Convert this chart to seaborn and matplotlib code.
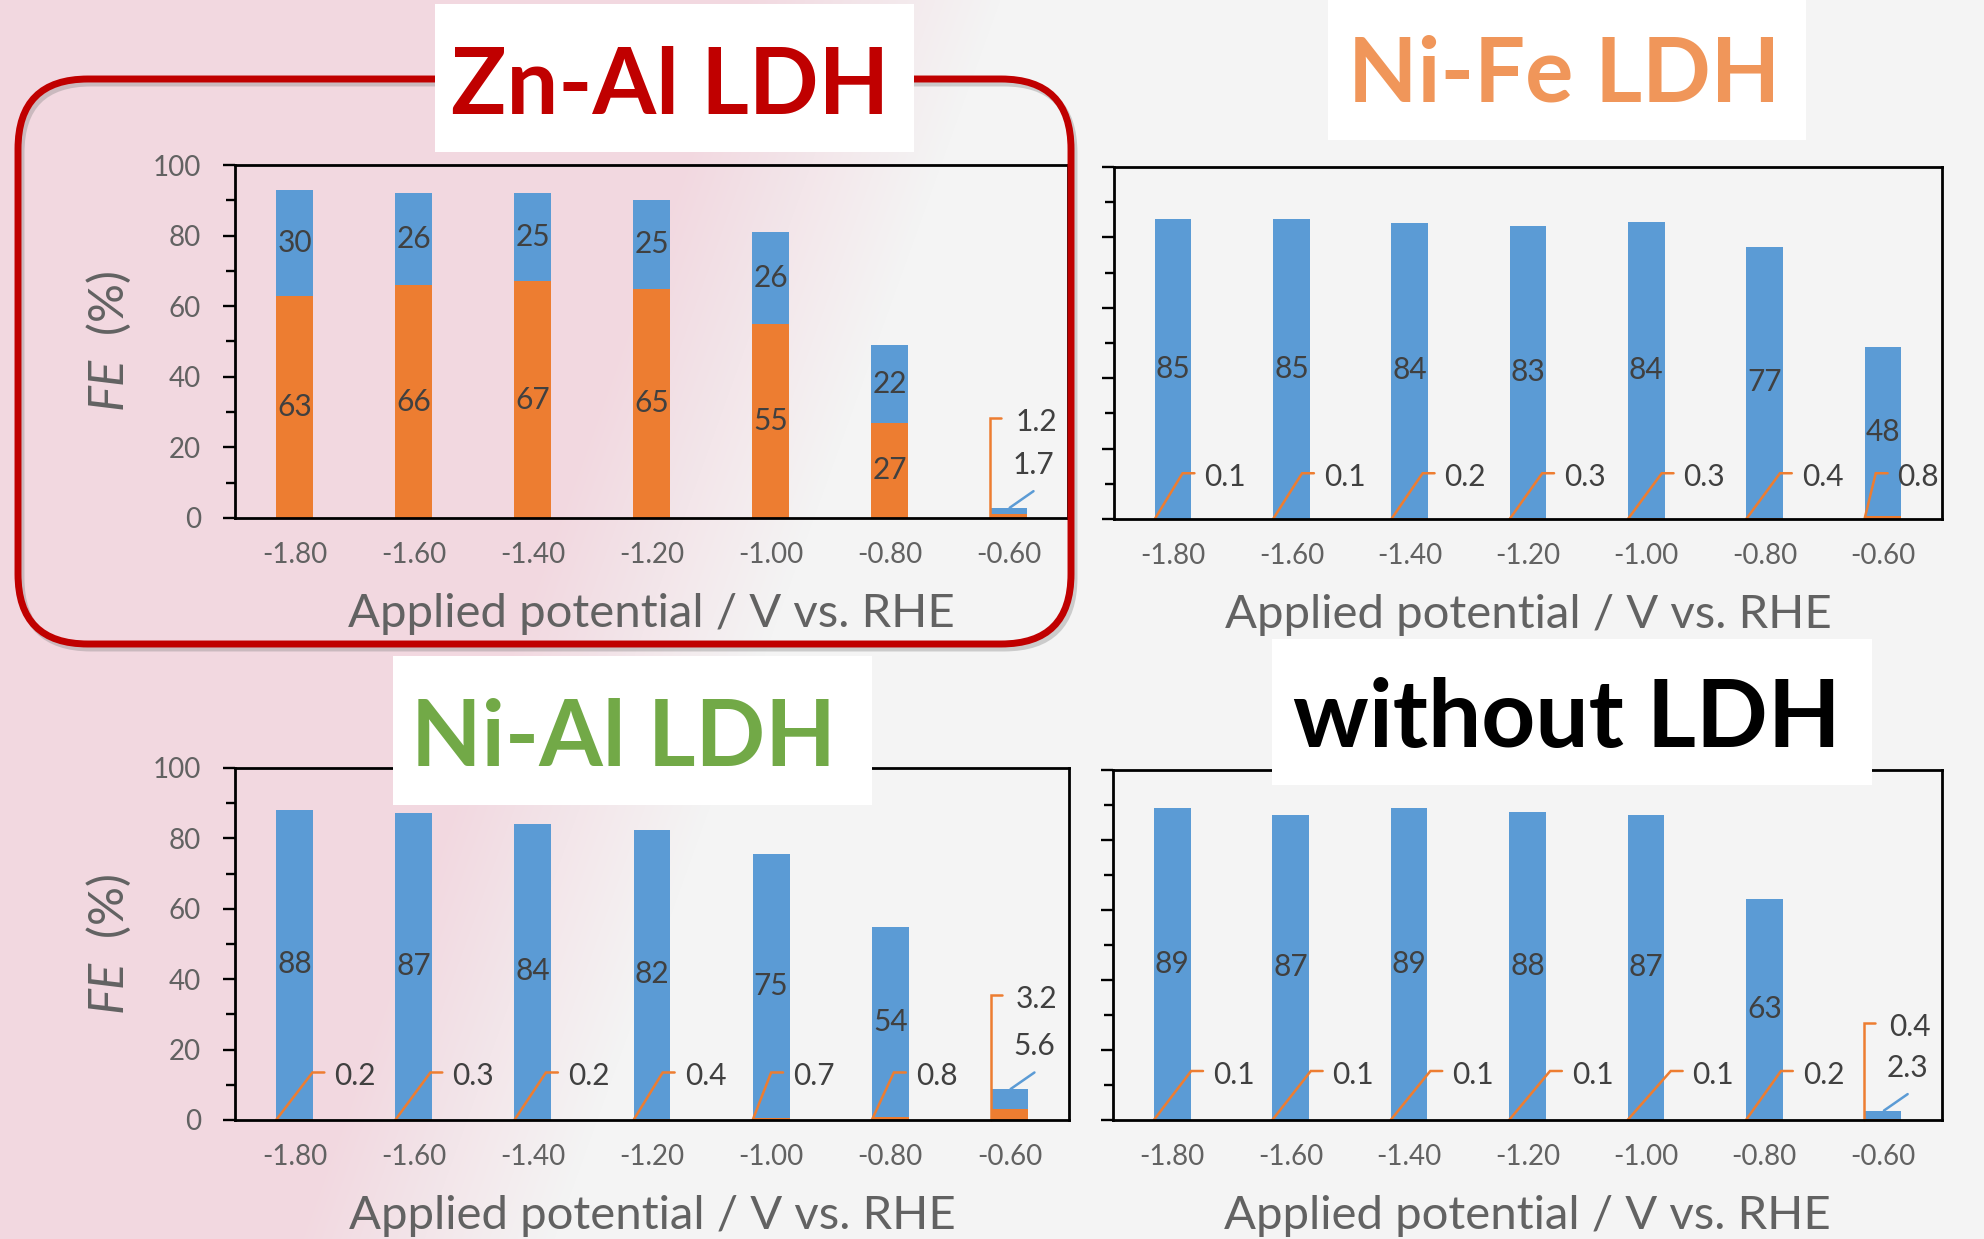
import numpy as np
import pandas as pd
import matplotlib
matplotlib.use("Agg")
import matplotlib.pyplot as plt
from matplotlib.patches import FancyBboxPatch, Rectangle
from matplotlib.ticker import MultipleLocator
from matplotlib.transforms import IdentityTransform
import seaborn as sns

# ---------------------------------------------------------------- data
potentials = ["-1.80", "-1.60", "-1.40", "-1.20", "-1.00", "-0.80", "-0.60"]

znal_orange = [63, 66, 67, 65, 55, 27, 1.2]
znal_blue = [30, 26, 25, 25, 26, 22, 1.7]

nife_orange = [0.1, 0.1, 0.2, 0.3, 0.3, 0.4, 0.8]
nife_blue = [85, 85, 84, 83, 84, 77, 48]

nial_orange = [0.2, 0.3, 0.2, 0.4, 0.7, 0.8, 3.2]
nial_blue = [88, 87, 84, 82, 75, 54, 5.6]

bare_orange = [0.1, 0.1, 0.1, 0.1, 0.1, 0.2, 0.4]
bare_blue = [89, 87, 89, 88, 87, 63, 2.3]

titles = ["Zn-Al LDH", "Ni-Fe LDH", "Ni-Al LDH", "without LDH"]
title_colors = ["#C00000", "#F0965A", "#72A947", "#000000"]
x_label = "Applied potential / V vs. RHE"
y_label = r"$\mathit{FE}$  (%)"

# ---------------------------------------------------------------- style
W, H, DPI = 1984, 1239, 100
BLUE = "#5B9BD5"
ORANGE = "#ED7D31"
LABEL_DARK = "#404040"
AXIS_GRAY = "#626262"
BAR_W = 0.31

sns.set_theme(style="white")
plt.rcParams["font.family"] = ["Lato", "DejaVu Sans"]
plt.rcParams["mathtext.fontset"] = "custom"
plt.rcParams["mathtext.it"] = "Lato:italic"
plt.rcParams["mathtext.rm"] = "Lato"

fig = plt.figure(figsize=(W / DPI, H / DPI), dpi=DPI)

# soft pink-to-grey backdrop running diagonally across the slide
yy, xx = np.mgrid[0:H, 0:W]
s = xx + 0.36 * yy
p = np.clip((1000 - s) / 260.0, 0, 1)
pink = np.array([242, 216, 224]) / 255.0
grey = np.array([244, 244, 244]) / 255.0
img = grey + (pink - grey) * p[..., None]
bg = fig.add_axes([0, 0, 1, 1], zorder=-10)
bg.imshow(img, extent=[0, 1, 0, 1], aspect="auto", origin="upper")
bg.set_axis_off()


def px_rect(left, right, top, bottom):
    return [left / W, 1 - bottom / H, (right - left) / W, (bottom - top) / H]


def fmt(v):
    return f"{v:g}"


def elbow_leader(ax, i, value, off, y_lab):
    """Orange leader from the bar foot to a label placed beside the bar."""
    x0 = i - BAR_W / 2
    xe = i + off - 0.36
    xh = i + off - 0.26
    ye = y_lab + 1.0
    ax.plot([x0, xe, xh], [0, ye, ye], color=ORANGE, lw=1.8,
            solid_joinstyle="miter", clip_on=False, zorder=4)
    ax.text(i + off, y_lab, fmt(value), ha="center", va="center",
            fontsize=21.5, color=LABEL_DARK, zorder=5)


def bracket_leader(ax, i, value, top):
    x0 = i - BAR_W / 2
    ax.plot([x0, x0, x0 + 0.09], [0, top, top], color=ORANGE, lw=1.8,
            solid_joinstyle="miter", clip_on=False, zorder=4)
    ax.text(i + 0.23, top - 1.2, fmt(value), ha="center", va="center",
            fontsize=21.5, color=LABEL_DARK, zorder=5)


def blue_leader(ax, i, value, total):
    ax.plot([i + 0.01, i + 0.21], [total, total + 4.7], color=BLUE, lw=1.8,
            clip_on=False, zorder=4)
    ax.text(i + 0.21, total + 12.2, fmt(value), ha="center", va="center",
            fontsize=21.5, color=LABEL_DARK, zorder=5)


def draw_panel(rect, orange, blue, show_ylabels, mode, side_offsets=None,
               side_y=12.0, bracket_top=None):
    ax = fig.add_axes(rect)
    ax.set_facecolor("none")
    total = np.add(orange, blue)
    df = pd.DataFrame({"potential": potentials, "orange": orange, "total": total})
    sns.barplot(data=df, x="potential", y="total", order=potentials, color=BLUE,
                saturation=1, width=BAR_W, errorbar=None, ax=ax, zorder=2,
                linewidth=0)
    sns.barplot(data=df, x="potential", y="orange", order=potentials, color=ORANGE,
                saturation=1, width=BAR_W, errorbar=None, ax=ax, zorder=3,
                linewidth=0)
    ax.set_xlim(-0.5, 6.5)
    ax.set_ylim(0, 100)

    n = len(potentials)
    for i in range(n):
        o, b = orange[i], blue[i]
        last = i == n - 1
        if mode == "stacked":
            if last:
                bracket_leader(ax, i, o, bracket_top)
                blue_leader(ax, i, b, o + b)
            else:
                ax.text(i, o / 2, fmt(o), ha="center", va="center",
                        fontsize=21.5, color=LABEL_DARK, zorder=5)
                ax.text(i, o + b / 2, fmt(b), ha="center", va="center",
                        fontsize=21.5, color=LABEL_DARK, zorder=5)
        else:
            if last and bracket_top is not None:
                bracket_leader(ax, i, o, bracket_top)
                blue_leader(ax, i, b, o + b)
            else:
                ax.text(i, o + b / 2, fmt(b), ha="center", va="center",
                        fontsize=21.5, color=LABEL_DARK, zorder=5)
                elbow_leader(ax, i, o, side_offsets[i], side_y)

    for sp in ax.spines.values():
        sp.set_visible(True)
        sp.set_color("black")
        sp.set_linewidth(2.0)
        sp.set_zorder(6)

    ax.yaxis.set_major_locator(MultipleLocator(20))
    ax.yaxis.set_minor_locator(MultipleLocator(10))
    ax.tick_params(axis="y", which="major", direction="out", length=8.6, width=1.7,
                   color="black", left=True, labelleft=show_ylabels,
                   labelsize=20, labelcolor=AXIS_GRAY, pad=16)
    ax.tick_params(axis="y", which="minor", direction="out", length=6.5, width=1.7,
                   color="black", left=True)
    ax.tick_params(axis="x", length=0, bottom=False, labelsize=20,
                   labelcolor=AXIS_GRAY, pad=17)

    ax.set_xlabel(x_label, fontsize=34, color=AXIS_GRAY)
    ax.xaxis.label.set_va("baseline")
    ax_h = rect[3] * H
    ax.xaxis.set_label_coords(0.5, -109 / ax_h)
    if show_ylabels:
        ax.set_ylabel(y_label, fontsize=35, color=AXIS_GRAY)
        ax.yaxis.label.set_va("center")
        ax.yaxis.set_label_coords(-126 / (rect[2] * W), 0.5)
    else:
        ax.set_ylabel("")
    return ax


draw_panel(px_rect(235, 1068, 165, 518), znal_orange, znal_blue, True,
           "stacked", bracket_top=28.4)
draw_panel(px_rect(1114, 1942, 167, 519), nife_orange, nife_blue, False,
           "side", side_offsets=[0.44, 0.45, 0.47, 0.48, 0.49, 0.49, 0.30],
           side_y=12.0)
draw_panel(px_rect(235, 1069, 768, 1120), nial_orange, nial_blue, True,
           "side", side_offsets=[0.51, 0.50, 0.47, 0.45, 0.36, 0.39],
           side_y=12.5, bracket_top=35.5)
draw_panel(px_rect(1113, 1942, 770, 1120), bare_orange, bare_blue, False,
           "side", side_offsets=[0.52, 0.53, 0.54, 0.55, 0.57, 0.50],
           side_y=13.0, bracket_top=27.8)

# rounded red frame around the Zn-Al panel (with a faint drop shadow)
ident = IdentityTransform()
fx0, fx1, fy_top, fy_bot = 18, 1071, 79, 644
for dx, dy, col, alpha, z in [(3, -4, "#808080", 0.35, 7), (0, 0, "#C00000", 1.0, 8)]:
    frame = FancyBboxPatch((fx0 + dx, H - fy_bot + dy), fx1 - fx0, fy_bot - fy_top,
                           boxstyle="round,pad=0,rounding_size=70",
                           transform=ident, facecolor="none", edgecolor=col,
                           linewidth=5.0, alpha=alpha, zorder=z)
    fig.add_artist(frame)

# white title plates and their captions
plates = [(435, 914, 4, 152), (1328, 1806, 0, 140), (393, 872, 656, 805),
          (1272, 1872, 639, 785)]
title_pos = [(670, 114), (1564, 101), (623, 766), (1567, 747)]
title_sizes = [66, 65, 66, 68]
for (l, r, t, b), (cx, base), fs, txt, col in zip(plates, title_pos, title_sizes,
                                                   titles, title_colors):
    fig.add_artist(Rectangle((l / W, 1 - b / H), (r - l) / W, (b - t) / H,
                             transform=fig.transFigure, facecolor="white",
                             edgecolor="none", zorder=9))
    fig.text(cx / W, 1 - base / H, txt, ha="center", va="baseline", fontsize=fs,
             fontweight="bold", color=col, zorder=10)

fig.savefig("out.png", dpi=DPI)
